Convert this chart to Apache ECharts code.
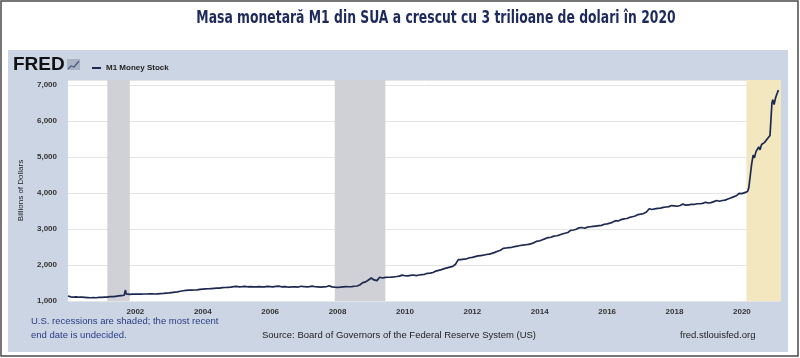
<!DOCTYPE html>
<html><head><meta charset="utf-8">
<script src="https://cdn.jsdelivr.net/npm/echarts@6/dist/echarts.min.js"></script>
<style>html,body{margin:0;padding:0;background:#fff}#c{width:800px;height:358px}</style>
</head><body><div id="c"></div>
<script>
// ---- data ----
const dates = [
"2000-01-01","2000-02-01","2000-03-01","2000-04-01","2000-05-01","2000-06-01","2000-07-01","2000-08-01","2000-09-01","2000-10-01","2000-11-01","2000-12-01",
"2001-01-01","2001-02-01","2001-03-01","2001-04-01","2001-05-01","2001-06-01","2001-07-01","2001-08-01","2001-09-01","2001-09-15","2001-09-22","2001-10-01","2001-11-01","2001-12-01",
"2002-01-01","2002-02-01","2002-03-01","2002-04-01","2002-05-01","2002-06-01","2002-07-01","2002-08-01","2002-09-01","2002-10-01","2002-11-01","2002-12-01",
"2003-01-01","2003-02-01","2003-03-01","2003-04-01","2003-05-01","2003-06-01","2003-07-01","2003-08-01","2003-09-01","2003-10-01","2003-11-01","2003-12-01",
"2004-01-01","2004-02-01","2004-03-01","2004-04-01","2004-05-01","2004-06-01","2004-07-01","2004-08-01","2004-09-01","2004-10-01","2004-11-01","2004-12-01",
"2005-01-01","2005-02-01","2005-03-01","2005-04-01","2005-05-01","2005-06-01","2005-07-01","2005-08-01","2005-09-01","2005-10-01","2005-11-01","2005-12-01",
"2006-01-01","2006-02-01","2006-03-01","2006-04-01","2006-05-01","2006-06-01","2006-07-01","2006-08-01","2006-09-01","2006-10-01","2006-11-01","2006-12-01",
"2007-01-01","2007-02-01","2007-03-01","2007-04-01","2007-05-01","2007-06-01","2007-07-01","2007-08-01","2007-09-01","2007-10-01","2007-11-01","2007-12-01",
"2008-01-01","2008-02-01","2008-03-01","2008-04-01","2008-05-01","2008-06-01","2008-07-01","2008-08-01","2008-09-01","2008-10-01","2008-11-01","2008-12-01",
"2009-01-01","2009-02-01","2009-03-01","2009-04-01","2009-05-01","2009-06-01","2009-07-01","2009-08-01","2009-09-01","2009-10-01","2009-11-01","2009-12-01",
"2010-01-01","2010-02-01","2010-03-01","2010-04-01","2010-05-01","2010-06-01","2010-07-01","2010-08-01","2010-09-01","2010-10-01","2010-11-01","2010-12-01",
"2011-01-01","2011-02-01","2011-03-01","2011-04-01","2011-05-01","2011-06-01","2011-07-01","2011-08-01","2011-09-01","2011-10-01","2011-11-01","2011-12-01",
"2012-01-01","2012-02-01","2012-03-01","2012-04-01","2012-05-01","2012-06-01","2012-07-01","2012-08-01","2012-09-01","2012-10-01","2012-11-01","2012-12-01",
"2013-01-01","2013-02-01","2013-03-01","2013-04-01","2013-05-01","2013-06-01","2013-07-01","2013-08-01","2013-09-01","2013-10-01","2013-11-01","2013-12-01",
"2014-01-01","2014-02-01","2014-03-01","2014-04-01","2014-05-01","2014-06-01","2014-07-01","2014-08-01","2014-09-01","2014-10-01","2014-11-01","2014-12-01",
"2015-01-01","2015-02-01","2015-03-01","2015-04-01","2015-05-01","2015-06-01","2015-07-01","2015-08-01","2015-09-01","2015-10-01","2015-11-01","2015-12-01",
"2016-01-01","2016-02-01","2016-03-01","2016-04-01","2016-05-01","2016-06-01","2016-07-01","2016-08-01","2016-09-01","2016-10-01","2016-11-01","2016-12-01",
"2017-01-01","2017-02-01","2017-03-01","2017-04-01","2017-05-01","2017-06-01","2017-07-01","2017-08-01","2017-09-01","2017-10-01","2017-11-01","2017-12-01",
"2018-01-01","2018-02-01","2018-03-01","2018-04-01","2018-05-01","2018-06-01","2018-07-01","2018-08-01","2018-09-01","2018-10-01","2018-11-01","2018-12-01",
"2019-01-01","2019-02-01","2019-03-01","2019-04-01","2019-05-01","2019-06-01","2019-07-01","2019-08-01","2019-09-01","2019-10-01","2019-11-01","2019-12-01",
"2020-01-01","2020-02-01","2020-03-01","2020-03-15","2020-04-01","2020-04-15","2020-05-01","2020-05-15","2020-06-01","2020-06-15","2020-07-01","2020-07-15",
"2020-08-01","2020-08-15","2020-09-01","2020-09-15","2020-10-01","2020-10-15","2020-11-01","2020-11-15","2020-11-22","2020-12-01","2020-12-15",
"2021-01-01","2021-01-15","2021-02-01"
];
const m1Values = [
1140,1115,1110,1115,1105,1105,1100,1095,1090,1095,1090,1100,
1100,1105,1110,1120,1120,1130,1140,1150,1160,1305,1200,1180,1185,1190,
1190,1195,1190,1195,1195,1200,1200,1195,1200,1205,1210,1220,
1225,1235,1245,1255,1270,1285,1295,1300,1300,1305,1310,1325,
1330,1335,1340,1345,1350,1355,1360,1370,1375,1380,1385,1400,
1405,1395,1400,1408,1395,1400,1395,1392,1400,1395,1392,1408,
1402,1395,1405,1412,1395,1400,1392,1388,1396,1392,1388,1410,
1402,1392,1400,1412,1396,1392,1388,1392,1396,1422,1392,1385,
1380,1385,1395,1402,1396,1402,1410,1416,1452,1510,1530,1585,
1640,1585,1565,1660,1640,1655,1660,1665,1672,1680,1690,1720,
1702,1696,1712,1722,1706,1722,1732,1742,1770,1776,1792,1832,
1852,1872,1900,1922,1942,1962,2022,2150,2152,2162,2172,2202,
2212,2232,2252,2262,2272,2292,2302,2322,2352,2382,2412,2462,
2472,2482,2492,2512,2522,2542,2552,2562,2572,2592,2622,2662,
2672,2702,2732,2762,2772,2802,2812,2832,2862,2882,2902,2962,
2972,2992,3032,3042,3022,3052,3062,3072,3082,3092,3102,3132,
3142,3162,3192,3232,3222,3262,3282,3292,3322,3342,3362,3402,
3412,3432,3472,3562,3542,3562,3572,3582,3602,3612,3622,3652,
3642,3632,3652,3692,3662,3672,3682,3682,3702,3702,3712,3742,
3722,3732,3762,3792,3772,3792,3802,3832,3862,3892,3922,3992,
3982,4012,4042,4150,4500,4800,5050,4980,5150,5100,5280,5200,
5350,5300,5400,5380,5500,5450,5600,5640,6500,6590,6460,
6650,6750,6860
];
const yTicks = [1000, 2000, 3000, 4000, 5000, 6000, 7000];
const recessions = [["2001-03-01","2001-11-01"],["2007-12-01","2009-06-01"]];
const shaded2020 = ["2020-02-20","2021-03-01"];
const seriesName = "M1 Money Stock";

// ---- helpers ----
function toYear(s){const p=s.split("-").map(Number);return p[0]+(p[1]-1)/12+((p[2]||1)-1)/365;}
const lineData = dates.map((d,i)=>[toYear(d), m1Values[i]]);
const xMin = 2000.0, xMax = 2021.16;

const chart = echarts.init(document.getElementById('c'), null, {renderer:'canvas'});
const txt = "'Liberation Sans', Arial, Helvetica, sans-serif";
chart.setOption({
  animation:false,
  backgroundColor:'#ffffff',
  graphic:[
    {type:'rect', z:-10, shape:{x:1,y:1,width:797,height:355}, style:{fill:'#ffffff', stroke:'#4a4a4a', lineWidth:1.5}},
    {type:'rect', z:-9, shape:{x:8,y:50,width:780,height:302}, style:{fill:'#cbd5e4'}},
    {type:'text', x:436, y:10, scaleX:0.81, style:{text:'Masa monetară M1 din SUA a crescut cu 3 trilioane de dolari în 2020', font:"bold 17px 'DejaVu Sans Condensed', 'Liberation Sans', sans-serif", fill:'#1f2a5c', textAlign:'center'}},
    {type:'text', x:13, y:55, style:{text:'FRED', font:"900 19px 'Liberation Sans', Arial, sans-serif", fill:'#111'}},
    {type:'rect', x:67, y:59, shape:{x:0,y:0,width:13,height:11}, style:{fill:'#a9b3c4'}},
    {type:'polyline', x:67, y:59, shape:{points:[[1,10],[4,7],[7,8],[12,2]]}, style:{stroke:'#4a5d80', lineWidth:1.2, fill:null}},
    {type:'text', x:31, y:316, style:{text:'U.S. recessions are shaded; the most recent', font:"9.5px "+txt, fill:'#2a3c86'}},
    {type:'text', x:31, y:330, style:{text:'end date is undecided.', font:"9.5px "+txt, fill:'#2a3c86'}},
    {type:'text', x:262, y:330, style:{text:'Source: Board of Governors of the Federal Reserve System (US)', font:"9.5px "+txt, fill:'#222'}},
    {type:'text', x:680, y:330, style:{text:'fred.stlouisfed.org', font:"9.5px "+txt, fill:'#222'}}
  ],
  legend:{
    left:87, top:59, itemWidth:9, itemHeight:2, icon:'rect', itemGap:4,
    textStyle:{fontSize:8, fontWeight:'bold', color:'#222', fontFamily:txt},
    data:[{name:seriesName}]
  },
  grid:{left:68, right:19, top:80, bottom:57, show:true, backgroundColor:'#ffffff', borderWidth:0},
  xAxis:{
    type:'value', min:xMin, max:xMax, interval:2,
    axisLine:{show:false}, axisTick:{show:false}, splitLine:{show:false},
    axisLabel:{showMinLabel:false, showMaxLabel:false, fontSize:8, fontWeight:'bold', color:'#333', fontFamily:txt, margin:7,
      formatter:v=> (Math.abs(v-Math.round(v))<1e-6 && Math.round(v)%2===0 && v>2000.5) ? String(Math.round(v)) : ''}
  },
  yAxis:{
    type:'value', min:1000, max:7140, interval:1000,
    name:'Billions of Dollars', nameLocation:'middle', nameGap:43, nameRotate:90,
    nameTextStyle:{fontSize:8, color:'#222', fontFamily:txt},
    axisLine:{show:false}, axisTick:{show:false},
    splitLine:{lineStyle:{color:'#e4e4e4', width:1}},
    axisLabel:{fontSize:8, fontWeight:'bold', color:'#333', fontFamily:txt, margin:11, showMaxLabel:false,
      formatter:v=> yTicks.includes(v) ? v.toLocaleString('en-US') : ''}
  },
  series:[{
    name:seriesName, type:'line', data:lineData, showSymbol:false, symbol:'none',
    lineStyle:{color:'#1d2951', width:1.7}, itemStyle:{color:'#1d2951'},
    markArea:{silent:true,
      data:[
        ...recessions.map(r=>[{xAxis:toYear(r[0]), itemStyle:{color:'#d0d1d6'}},{xAxis:toYear(r[1])}]),
        [{xAxis:toYear(shaded2020[0]), itemStyle:{color:'#f2e7bf'}},{xAxis:Math.min(toYear(shaded2020[1]),xMax)}]
      ]}
  }]
});
</script></body></html>
